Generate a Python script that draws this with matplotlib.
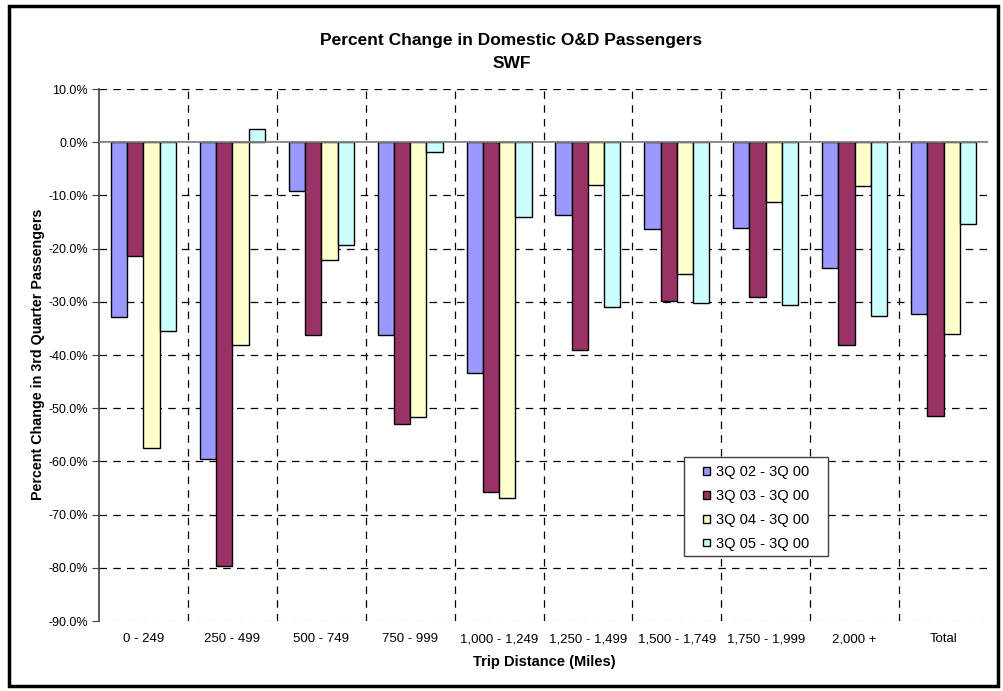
import matplotlib.pyplot as plt
import numpy as np
from matplotlib.patches import Rectangle

plt.rcParams['font.family'] = ['Liberation Sans', 'DejaVu Sans']

categories = ['0 - 249', '250 - 499', '500 - 749', '750 - 999', '1,000 - 1,249',
              '1,250 - 1,499', '1,500 - 1,749', '1,750 - 1,999', '2,000 +', 'Total']
series = ['3Q 02 - 3Q 00', '3Q 03 - 3Q 00', '3Q 04 - 3Q 00', '3Q 05 - 3Q 00']
q02 = [-32.9, -59.6, -9.2, -36.3, -43.4, -13.7, -16.4, -16.2, -23.7, -32.3]
q03 = [-21.4, -79.6, -36.3, -53.0, -65.8, -39.1, -29.9, -29.1, -38.2, -51.5]
q04 = [-57.5, -38.2, -22.2, -51.7, -66.9, -8.1, -24.8, -11.3, -8.3, -36.1]
q05 = [-35.5, 2.4, -19.4, -1.9, -14.1, -31.0, -30.3, -30.6, -32.7, -15.4]
colors = ['#9999FF', '#993366', '#FFFFCC', '#CCFFFF']

W, H = 1004, 691
fig = plt.figure(figsize=(W / 100, H / 100), dpi=100)
fig.patches.append(Rectangle((0.009, 0.007), 0.985, 0.985, transform=fig.transFigure,
                             fill=False, edgecolor='black', linewidth=2.5))

# plot area in pixels: x 99..988, y 89..621
ax = fig.add_axes([99 / W, (H - 621) / H, 889 / W, 532 / H])
x = np.arange(len(categories))
w = 0.183
for i, (vals, c, lab) in enumerate(zip([q02, q03, q04, q05], colors, series)):
    ax.bar(x + (i - 1.5) * w, vals, w, color=c, edgecolor='black', linewidth=1.0,
           label=lab, zorder=3)

ax.set_xlim(-0.5, len(categories) - 0.5)
ax.set_ylim(-90, 10)
yt = np.arange(-90, 11, 10)
ax.set_yticks(yt)
ax.set_yticklabels([f'{v:.1f}%' for v in yt], fontsize=9)
ax.set_xticks(x)
ax.set_xticklabels(categories, fontsize=9.5)
ax.tick_params(axis='x', length=0, pad=9)
ax.tick_params(axis='y', length=5, direction='out', color='#404040', pad=3)

for v in yt:
    if v == 0:
        continue
    ax.axhline(v, color='#C0C0C0' if v == -90 else 'black', linestyle=(0, (6, 5)),
               linewidth=0.9, zorder=1)
for b in np.arange(0.5, len(categories) - 0.5, 1):
    ax.axvline(b, color='black', linestyle=(0, (6, 5)), linewidth=0.9, zorder=1)
ax.axhline(0, color='#808080', linewidth=1.3, zorder=4)

for s in ['top', 'right', 'bottom']:
    ax.spines[s].set_visible(False)
ax.spines['left'].set_color('#404040')
ax.spines['left'].set_linewidth(1.2)

fig.text(544 / W, 1 - 662 / H, 'Trip Distance (Miles)', ha='center', va='center',
         fontsize=10.5, fontweight='bold')
fig.text(38 / W, 1 - 354 / H, 'Percent Change in 3rd Quarter Passengers', ha='center',
         va='center', rotation=90, fontsize=10.3, fontweight='bold')
fig.text(511 / W, 1 - 41 / H, 'Percent Change in Domestic O&D Passengers', ha='center',
         va='center', fontsize=12.5, fontweight='bold')
fig.text(512 / W, 1 - 63 / H, 'SWF', ha='center', va='center', fontsize=12.5,
         fontweight='bold')

# legend box drawn separately, entries placed inside it
ax.add_patch(Rectangle((684 / W, 1 - 556 / H), 144 / W, 99 / H, transform=fig.transFigure,
                       facecolor='white', edgecolor='#404040', linewidth=1.0, zorder=5))
leg = ax.legend(loc='upper left', bbox_to_anchor=(703 / W, 1 - 465 / H),
                bbox_transform=fig.transFigure, fontsize=10.5, frameon=False,
                handlelength=0.45, handleheight=0.45, handletextpad=0.45,
                labelspacing=0.68, borderpad=0, borderaxespad=0)
leg.set_zorder(6)

plt.savefig('out.png', dpi=100)
